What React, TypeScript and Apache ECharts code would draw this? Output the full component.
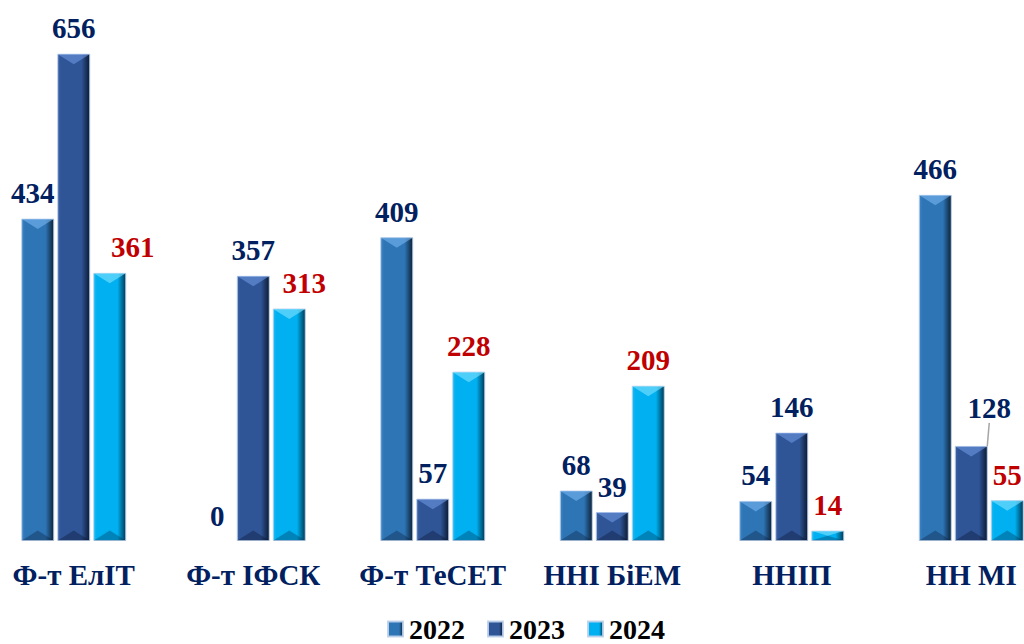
import React, { useEffect, useRef } from "react";
import * as echarts from "echarts";

const categories = ["Ф-т ЕлІТ", "Ф-т ІФСК", "Ф-т ТеСЕТ", "ННІ БіЕМ", "ННІП", "НН МІ"];
const seriesNames = ["2022", "2023", "2024"];
const values2022 = [434, 0, 409, 68, 54, 466];
const values2023 = [656, 357, 57, 39, 146, 128];
const values2024 = [361, 313, 228, 209, 14, 55];

const FONT = "Liberation Serif";
const BAR_W = 33;
const GAP = 3;
const SHIFT_L = 16;
const SHIFT_R = 37;

const palette = [
  { base: "#2E75B6", light: "#3F86C6", dark: "#0C2238", top: "rgba(120,180,240,0.6)", bottom: "rgba(10,30,60,0.35)" },
  { base: "#2F5597", light: "#3B62A6", dark: "#0B1A33", top: "rgba(110,150,225,0.6)", bottom: "rgba(5,15,40,0.35)" },
  { base: "#00B0F0", light: "#19BDF5", dark: "#003A55", top: "rgba(120,225,255,0.65)", bottom: "rgba(0,50,80,0.35)" },
];
const labelColors = ["#002060", "#002060", "#C00000"];

function grad(p: any) {
  return new echarts.graphic.LinearGradient(0, 0, 1, 0, [
    { offset: 0, color: p.light },
    { offset: 0.1, color: p.base },
    { offset: 0.74, color: p.base },
    { offset: 1, color: p.dark },
  ]);
}

// label nudges (series, dataIndex) -> [dx, dy]
const labelNudge: Record<string, [number, number]> = {
  "0-0": [-5, 0],
  "2-0": [23, 0],
  "2-1": [15, 0],
  "1-5": [18, -12],
};

export default function App() {
  const ref = useRef<HTMLDivElement>(null);
  useEffect(() => {
    if (!ref.current) return;
    const chart = echarts.init(ref.current, undefined, { renderer: "svg" });
    const all = [values2022, values2023, values2024];
    const barSeries: any[] = all.map((vals, si) => ({
      name: seriesNames[si],
      type: "bar",
      barWidth: BAR_W,
      barGap: `${(GAP / BAR_W) * 100}%`,
      z: 2,
      itemStyle: { color: grad(palette[si]), borderColor: "rgba(190,210,235,0.9)", borderWidth: 1 },
      label: {
        show: true,
        position: "top",
        distance: 11,
        color: labelColors[si],
        fontFamily: FONT,
        fontWeight: "bold",
        fontSize: 29,
      },
      labelLayout: (params: any) => {
        const n = labelNudge[`${si}-${params.dataIndex}`];
        return n ? { dx: n[0], dy: n[1] } : {};
      },
      data: vals.map((v, i) => {
        if (v === 0) return { value: v, itemStyle: { borderWidth: 0, color: "transparent" } };
        if (si === 1 && i === 5)
          return { value: v, labelLine: { show: true, lineStyle: { color: "#A6A6A6", width: 1.5 } } };
        return v;
      }),
    }));
    const bevelSeries: any[] = all.map((vals, si) => ({
      name: "_bevel" + si,
      type: "custom",
      z: 3,
      silent: true,
      encode: { x: 0, y: 1 },
      data: vals.map((v, i) => [i, v]),
      renderItem: (params: any, api: any) => {
        const cat = api.value(0);
        const v = api.value(1);
        if (!v) return null;
        const t = api.coord([cat, v]);
        const b = api.coord([cat, 0]);
        const xc = t[0] + (si - 1) * (BAR_W + GAP);
        const x0 = xc - BAR_W / 2 + 0.5;
        const x1 = xc + BAR_W / 2 - 0.5;
        const yT = t[1] + 0.5;
        const yB = b[1] - 0.5;
        const d = Math.min(10, (yB - yT) / 2);
        const p = palette[si];
        return {
          type: "group",
          children: [
            { type: "polygon", shape: { points: [[x0, yT], [x1, yT], [xc, yT + d]] }, style: { fill: p.top } },
            { type: "polygon", shape: { points: [[x0, yB], [x1, yB], [xc, yB - d]] }, style: { fill: p.bottom } },
          ],
        };
      },
    }));
    chart.setOption({
      animation: false,
      grid: { left: 0, right: 0, top: 21, bottom: 103, containLabel: false },
      legend: {
        data: seriesNames,
        top: 615,
        left: 387 + SHIFT_L,
        padding: 0,
        itemWidth: 15,
        itemHeight: 15,
        itemGap: 22,
        icon: "rect",
        textStyle: {
          fontFamily: FONT,
          fontWeight: "bold",
          fontSize: 28,
          lineHeight: 28,
          color: "#000",
          padding: [0, 0, 0, 1],
        },
      },
      xAxis: {
        type: "category",
        data: categories,
        axisLine: { show: false },
        axisTick: { show: false },
        axisLabel: {
          interval: 0,
          margin: 19,
          color: "#002060",
          fontFamily: FONT,
          fontWeight: "bold",
          fontSize: 29,
          hideOverlap: false,
        },
      },
      yAxis: { type: "value", min: 0, max: 700, show: false, splitLine: { show: false } },
      series: [...barSeries, ...bevelSeries],
    });
    return () => chart.dispose();
  }, []);
  return (
    <div style={{ position: "absolute", left: 0, top: 0, width: 1024, height: 644, overflow: "hidden" }}>
      <div
        ref={ref}
        style={{ position: "absolute", left: -SHIFT_L, top: 0, width: 1024 + SHIFT_L + SHIFT_R, height: 644 }}
      />
    </div>
  );
}
